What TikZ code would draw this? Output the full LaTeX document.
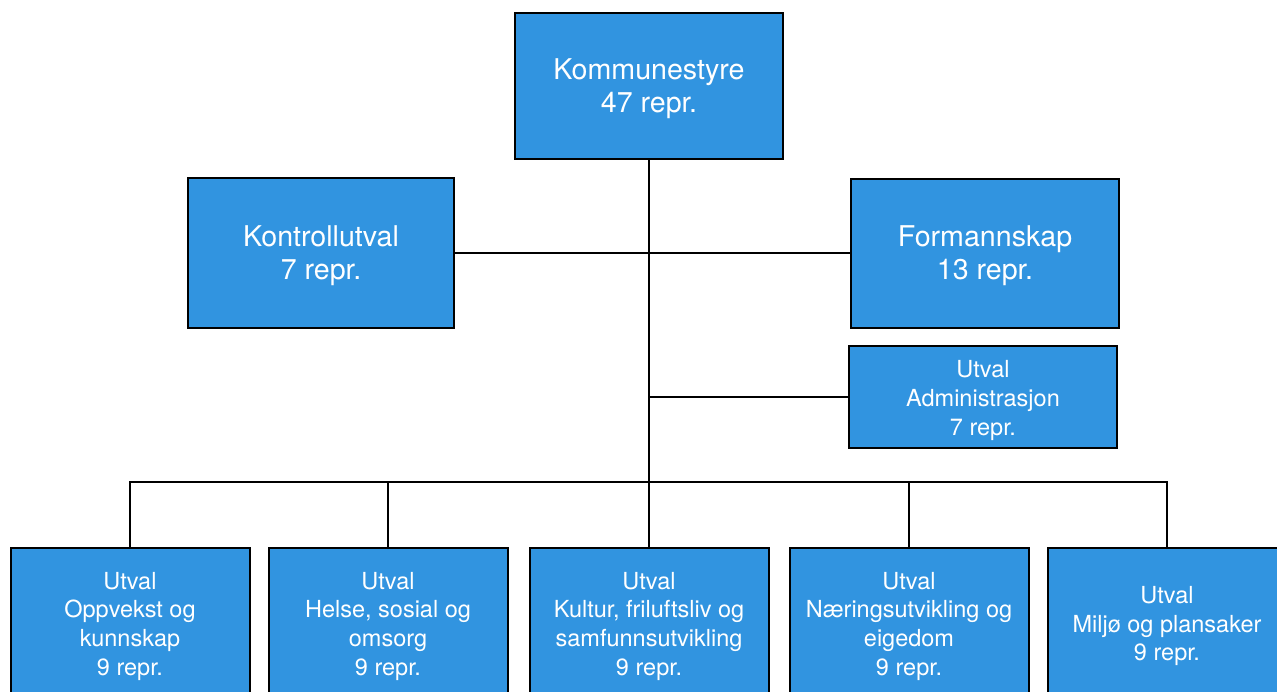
\documentclass[tikz,border=0pt]{standalone}
\usepackage{fontspec}
\setmainfont{TeX Gyre Heros}
\definecolor{boxblue}{HTML}{3194E0}
\newcommand{\orgtext}[1]{\raisebox{-3.5pt}[\height][\depth]{\begin{tabular}{@{}c@{}}#1\end{tabular}}}
\tikzset{
  orgbox/.style={draw=black, line width=2pt, fill=boxblue, text=white, inner sep=0pt},
  bigbox/.style={orgbox, minimum width=268pt, minimum height=148pt, font=\fontsize{28.6}{33.4}\selectfont},
  smallbox/.style={orgbox, minimum width=239pt, minimum height=150pt, font=\fontsize{23.5}{28.6}\selectfont},
  link/.style={draw=black, line width=2pt}
}
\begin{document}
\begin{tikzpicture}[x=1pt,y=-1pt]
\useasboundingbox (0,0) rectangle (1277,691);
\node[bigbox, minimum height=146pt] (ks) at (649,86) {\orgtext{Kommunestyre\\47 repr.}};
\node[bigbox, minimum width=266pt, minimum height=150pt] (ku) at (321,253) {\orgtext{Kontrollutval\\7 repr.}};
\node[bigbox, minimum height=149pt] (fm) at (985,253) {\orgtext{Formannskap\\13 repr.}};
\node[orgbox, minimum width=268pt, minimum height=102pt, font=\fontsize{23.5}{29}\selectfont] (adm) at (983,397) {\orgtext{Utval\\Administrasjon\\7 repr.}};
\node[smallbox] (b1) at (130,623) {\orgtext{Utval\\Oppvekst og\\kunnskap\\9 repr.}};
\node[smallbox] (b2) at (388,623) {\orgtext{Utval\\Helse, sosial og\\omsorg\\9 repr.}};
\node[smallbox] (b3) at (649,623) {\orgtext{Utval\\Kultur, friluftsliv og\\samfunnsutvikling\\9 repr.}};
\node[smallbox] (b4) at (909,623) {\orgtext{Utval\\Næringsutvikling og\\eigedom\\9 repr.}};
\node[smallbox] (b5) at (1167,623) {\orgtext{Utval\\Miljø og plansaker\\9 repr.}};
\coordinate (bus) at (649,482);
\draw[link] (ks.south) -- (b3.north);
\draw[link] (ku.east) -- (fm.west);
\draw[link] (ks.south |- adm.west) -- (adm.west);
\draw[link] (b1.north) -- (b1.north |- bus) -- (b5.north |- bus) -- (b5.north);
\draw[link] (b2.north |- bus) -- (b2.north);
\draw[link] (b4.north |- bus) -- (b4.north);
\end{tikzpicture}
\end{document}
